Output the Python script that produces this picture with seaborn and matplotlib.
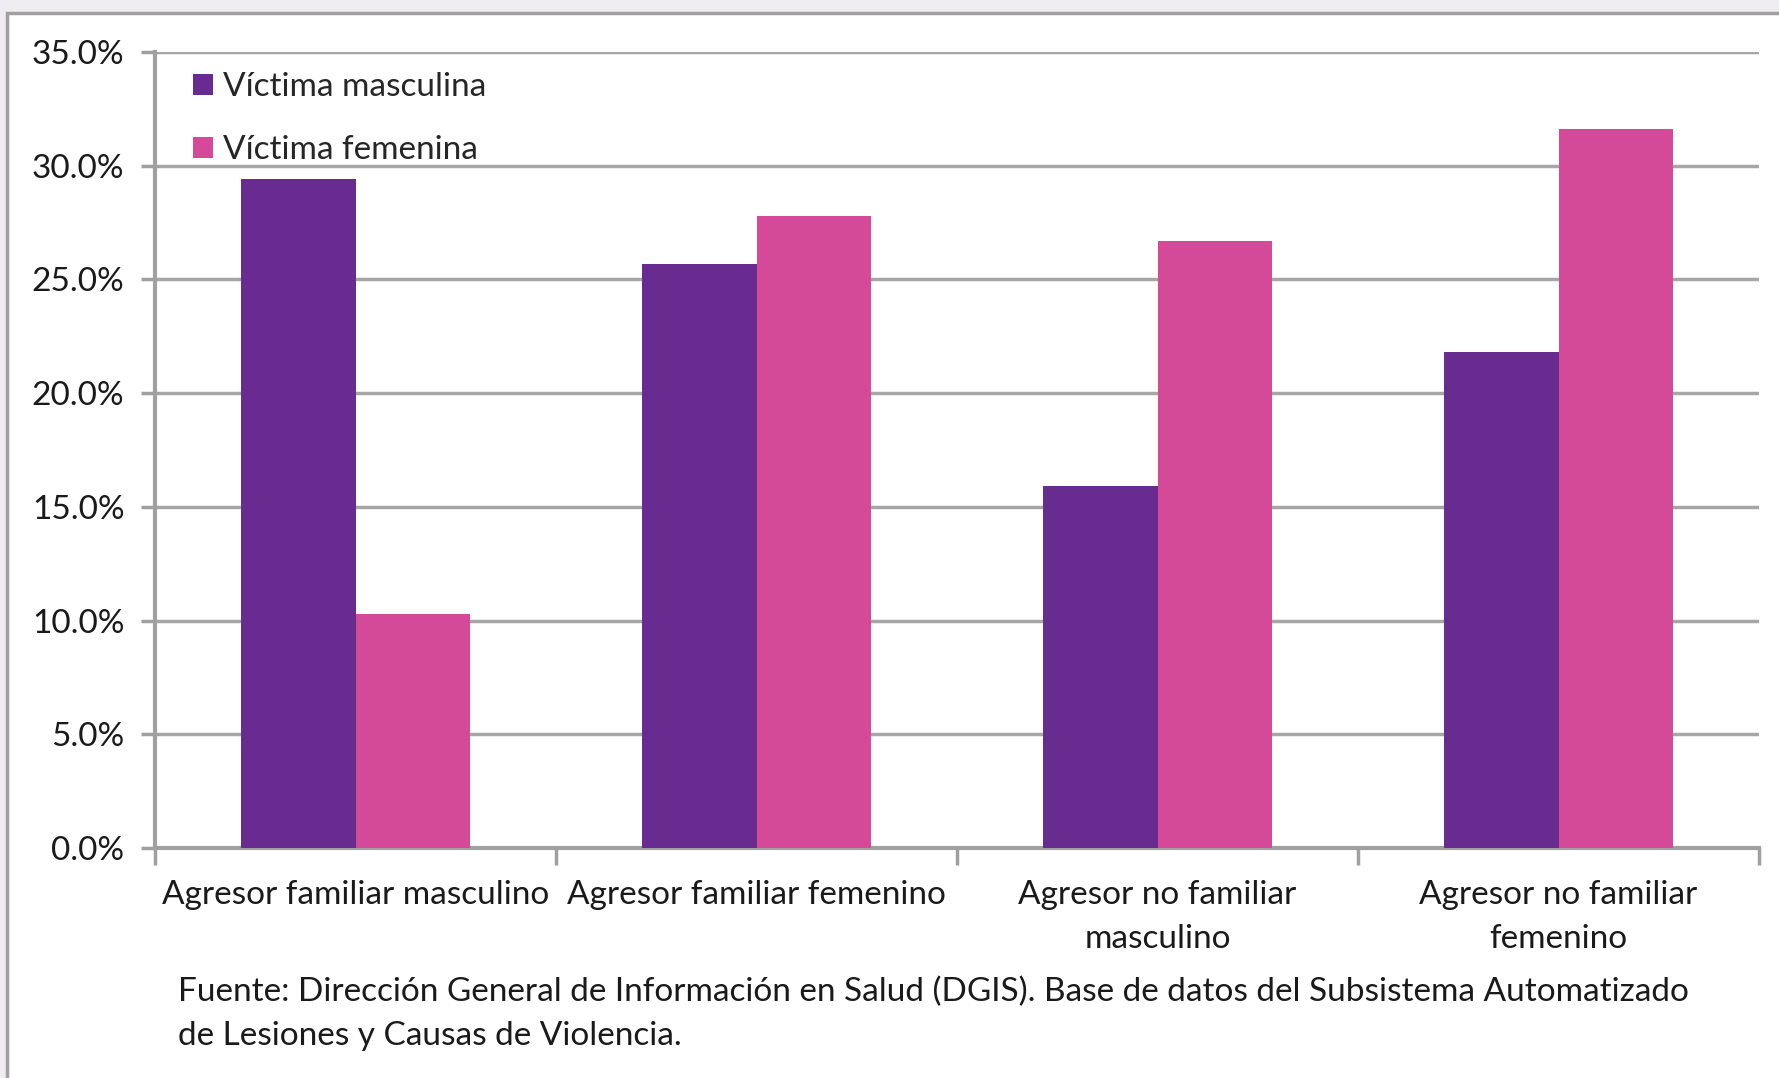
import pandas as pd
import matplotlib.pyplot as plt
import seaborn as sns
from matplotlib.patches import Rectangle
from matplotlib.ticker import PercentFormatter

# Data
agresores = ['Agresor familiar masculino', 'Agresor familiar femenino',
             'Agresor no familiar\nmasculino', 'Agresor no familiar\nfemenino']
victima_masculina = [29.4, 25.7, 15.9, 21.8]
victima_femenina = [10.3, 27.8, 26.7, 31.6]
series = ['Víctima masculina', 'Víctima femenina']
colores = ['#682B8F', '#D54A98']
fuente = ('Fuente: Dirección General de Información en Salud (DGIS). Base de datos del Subsistema Automatizado\n'
          'de Lesiones y Causas de Violencia.')

df = pd.DataFrame({
    'agresor': agresores * 2,
    'pct': victima_masculina + victima_femenina,
    'victima': [series[0]] * 4 + [series[1]] * 4,
})

sns.set_theme(style='white')
plt.rcParams['font.family'] = ['Lato', 'DejaVu Sans']
fs = 24

fig = plt.figure(figsize=(17.79, 10.78), dpi=100)
fig.patch.set_facecolor('#EFEDF2')
# white panel with gray border
fig.patches.append(Rectangle((7 / 1779, -0.01), 1.02, 1 - 13 / 1078 + 0.01, transform=fig.transFigure,
                             facecolor='white', edgecolor='#A0A0A0', linewidth=2.5, zorder=-1))

ax = fig.add_axes([155 / 1779, 1 - 848 / 1078, (1759 - 155) / 1779, (848 - 52) / 1078])
ax.set_zorder(2)
ax.set_facecolor('none')
sns.barplot(data=df, x='agresor', y='pct', hue='victima', palette=colores,
            width=0.57, saturation=1, edgecolor='none', ax=ax, zorder=3)

ax.set_ylim(0, 35)
ax.set_xlim(-0.5, 3.5)
ax.set_yticks(range(0, 36, 5))
ax.yaxis.set_major_formatter(PercentFormatter(decimals=1))
ax.yaxis.grid(True, color='#A6A6A6', linewidth=2.5, zorder=0)
ax.set_axisbelow(True)
ax.set_xlabel('')
ax.set_ylabel('')

for s in ['top', 'right']:
    ax.spines[s].set_visible(False)
for s in ['left', 'bottom']:
    ax.spines[s].set_color('#A0A0A0')
    ax.spines[s].set_linewidth(3)

ax.tick_params(axis='y', length=10, width=2.5, color='#A0A0A0', labelsize=fs, labelcolor='#1a1a1a', pad=12, left=True)
ax.tick_params(axis='x', which='major', length=0, labelsize=fs, labelcolor='#1a1a1a', pad=23)
for lbl in ax.get_xticklabels():
    lbl.set_linespacing(1.6)
ax.set_xticks([-0.5, 0.5, 1.5, 2.5, 3.5], minor=True)
ax.tick_params(axis='x', which='minor', length=12, width=2.5, color='#A0A0A0', bottom=True)

leg = ax.legend(loc='upper left', frameon=False, fontsize=fs, handlelength=0.6, handleheight=0.6,
                handletextpad=0.3, labelspacing=1.0, bbox_to_anchor=(0.011, 1.0), borderaxespad=0.2)

fig.text(178 / 1779, 1 - 977 / 1078, fuente, fontsize=fs, color='#1a1a1a', ha='left', va='top', linespacing=1.55)

fig.savefig('out.png', dpi=100)
